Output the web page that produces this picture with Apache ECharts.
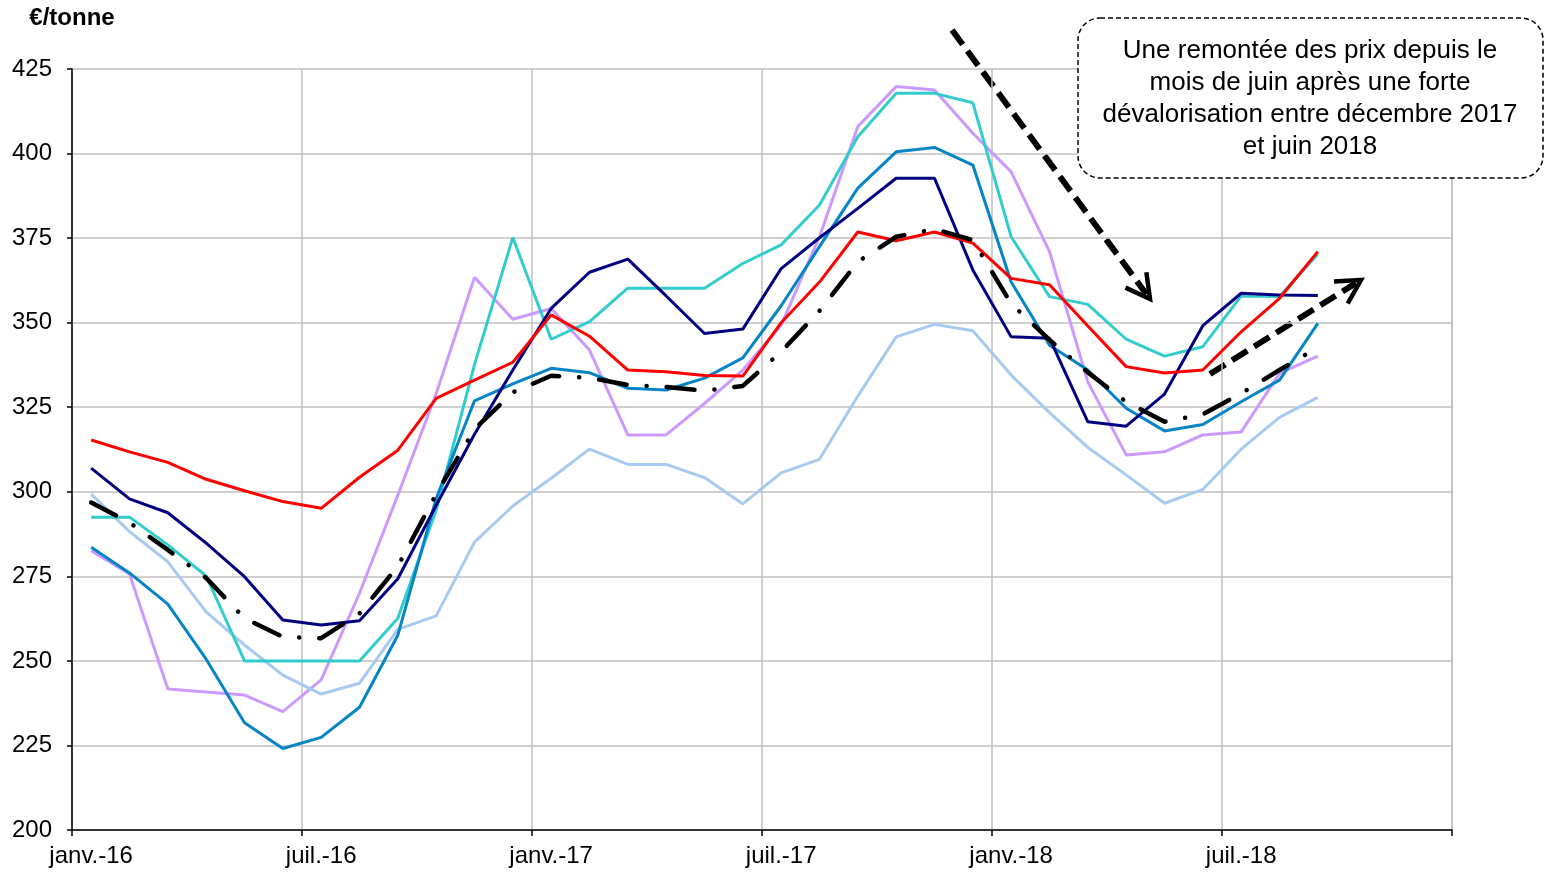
<!DOCTYPE html>
<html>
<head>
<meta charset="utf-8">
<title>Prix €/tonne</title>
<script src="https://cdn.jsdelivr.net/npm/echarts@6/dist/echarts.min.js"></script>
<style>
    html, body { margin: 0; padding: 0; background: #fff; }
    #chart { width: 1545px; height: 878px; }
</style>
</head>
<body>
<div id="chart"></div>
<script>
// Monthly prices, janv.-16 .. sept.-18 (axis runs to déc.-18)
const monthNames = ['janv.', 'févr.', 'mars', 'avr.', 'mai', 'juin', 'juil.', 'août', 'sept.', 'oct.', 'nov.', 'déc.'];
const years = ['16', '17', '18'];
const months = [];
years.forEach(y => monthNames.forEach(m => months.push(m + '-' + y)));

const yTicks = { min: 200, max: 425, step: 25 };

const redSeries = [315.3, 311.8, 308.7, 303.7, 300.3, 297.1, 295.1, 304.3, 312.3, 327.6, 333, 338.3,
    352.3, 346, 336, 335.5, 334.4, 334.2, 350, 362, 376.8, 374.2, 376.8, 373.5,
    363.1, 361.2, 349, 337, 335.1, 336, 347.3, 357.2, 371];
const navySeries = [307, 297.9, 293.8, 284.8, 274.9, 262.1, 260.6, 261.9, 274.3, 296, 317, 336,
    354.2, 364.9, 368.8, 357.9, 346.8, 348.1, 366, 375.1, 383.8, 392.7, 392.7, 365.6,
    345.8, 345.4, 320.7, 319.4, 328.9, 349.1, 358.7, 358.2, 358];
const tealSeries = [292.5, 292.5, 284.3, 275.1, 250, 250, 250, 250, 262.6, 294.6, 337.6, 375.2,
    345.1, 350.3, 360.2, 360.2, 360.2, 367.5, 373, 384.8, 405, 417.8, 417.8, 415,
    375.4, 357.7, 355.4, 345.1, 340.1, 342.9, 357.9, 357.7, 370.3];
const blueSeries = [283.6, 276, 266.8, 250.5, 231.7, 224.1, 227.4, 236.3, 257.6, 298, 326.9, 331.9,
    336.5, 335.2, 330.6, 330.1, 333.6, 339.6, 355, 372.5, 389.8, 400.5, 401.8, 396.6,
    362, 343.3, 336, 324.7, 318, 319.9, 326.6, 333, 349.8];
const lavenderSeries = [282.6, 275.7, 241.7, 240.8, 239.9, 235, 244.4, 270, 299, 329, 363.4, 351,
    354.2, 341.9, 316.8, 316.8, 326.1, 336, 349.3, 375.4, 408, 419.8, 418.8, 406,
    394.6, 371, 332.5, 310.9, 311.8, 316.8, 317.7, 335, 340.1];
const lightBlueSeries = [299.3, 288.2, 279.3, 264.5, 254.7, 245.8, 240.2, 243.4, 259.3, 263.3, 285.1, 295.8,
    304, 312.6, 308.1, 308.1, 304.2, 296.4, 305.6, 309.6, 328.3, 345.8, 349.5, 347.6,
    334.5, 323.4, 313.1, 305, 296.6, 300.7, 312.6, 322, 327.9];
const averageSeries = [296.8, 290.9, 282.8, 274.5, 262.6, 257.1, 256.7, 264, 278, 299.3, 318.5, 329.4,
    334.3, 333.7, 331.6, 331, 329.9, 331.3, 341.4, 353.5, 368, 375.4, 377.7, 374.4,
    355.6, 344.9, 335.3, 326.6, 320.7, 322.9, 329.1, 336, 342.7];

const noteLines = [
    'Une remontée des prix depuis le',
    'mois de juin après une forte',
    'dévalorisation entre décembre 2017',
    'et juin 2018'
];

const FONT = '"Liberation Sans", Arial, sans-serif';

function lineSeries(name, data, color, width) {
    return {
        name: name,
        type: 'line',
        data: data,
        symbol: 'none',
        smooth: false,
        lineStyle: { color: color, width: width },
        emphasis: { disabled: true }
    };
}

// dashed arrow annotation: shaft + open V head
function arrow(x1, y1, x2, y2) {
    const ang = Math.atan2(y2 - y1, x2 - x1);
    const len = 27, spread = 0.5;
    const bx = x2 - Math.cos(ang) * 6, by = y2 - Math.sin(ang) * 6;
    const p1 = [x2 - len * Math.cos(ang - spread), y2 - len * Math.sin(ang - spread)];
    const p2 = [x2 - len * Math.cos(ang + spread), y2 - len * Math.sin(ang + spread)];
    return [
        {
            type: 'line',
            shape: { x1: x1, y1: y1, x2: bx, y2: by },
            style: { stroke: '#000', lineWidth: 6, lineDash: [18, 8] }
        },
        {
            type: 'polyline',
            shape: { points: [p1, [x2, y2], p2] },
            style: { stroke: '#000', lineWidth: 4.5, fill: null, lineJoin: 'miter', miterLimit: 10 }
        }
    ];
}

const chart = echarts.init(document.getElementById('chart'));

const option = {
    backgroundColor: '#fff',
    animation: false,
    textStyle: { fontFamily: FONT },
    grid: { left: 72, right: 93, top: 69, bottom: 48, containLabel: false },
    xAxis: {
        type: 'category',
        data: months,
        boundaryGap: true,
        axisLine: { lineStyle: { color: '#000', width: 1.5 } },
        axisTick: { show: true, interval: 5, length: 6, lineStyle: { color: '#000', width: 1.5 } },
        axisLabel: { interval: 5, color: '#000', fontSize: 24, margin: 14, fontFamily: FONT },
        splitLine: { show: true, interval: 5, lineStyle: { color: '#c0c0c0', width: 1.5 } }
    },
    yAxis: [
        {
            type: 'value',
            min: yTicks.min,
            max: yTicks.max,
            interval: yTicks.step,
            name: '€/tonne',
            nameLocation: 'end',
            nameGap: 51,
            nameTextStyle: { color: '#000', fontSize: 24, fontWeight: 'bold', fontFamily: FONT, verticalAlign: 'middle', align: 'center' },
            axisLine: { show: true, lineStyle: { color: '#000', width: 1.5 } },
            axisTick: { show: true, length: 5, lineStyle: { color: '#000', width: 1.5 } },
            axisLabel: { color: '#000', fontSize: 24, margin: 20, fontFamily: FONT },
            splitLine: { show: true, lineStyle: { color: '#c0c0c0', width: 1.5 } }
        },
        {
            // right border of plot area drawn like a grid line
            type: 'value',
            position: 'right',
            min: yTicks.min,
            max: yTicks.max,
            interval: yTicks.step,
            axisLine: { show: true, lineStyle: { color: '#c0c0c0', width: 1.5 } },
            axisTick: { show: false },
            axisLabel: { show: false },
            splitLine: { show: false }
        }
    ],
    series: [
        lineSeries('lavande', lavenderSeries, '#cc99ff', 3),
        lineSeries('bleu clair', lightBlueSeries, '#a6caf0', 3),
        lineSeries('turquoise', tealSeries, '#33cccc', 3),
        lineSeries('bleu', blueSeries, '#0584c6', 3),
        lineSeries('bleu marine', navySeries, '#000080', 3),
        lineSeries('rouge', redSeries, '#ff0000', 3),
        {
            name: 'Moyenne',
            type: 'line',
            data: averageSeries,
            symbol: 'none',
            z: 5,
            lineStyle: { color: '#000', width: 4.5, type: [28, 20, 0.1, 20], cap: 'round' },
            emphasis: { disabled: true }
        }
    ],
    graphic: [
        ...arrow(952, 30, 1150, 299),
        ...arrow(1210, 374, 1361, 280),
        {
            type: 'rect',
            shape: { x: 1078, y: 18, width: 465, height: 160, r: 22 },
            style: { fill: '#fff', stroke: '#000', lineWidth: 1.5, lineDash: [5, 3] },
            z: 10
        },
        {
            type: 'text',
            x: 1310,
            y: 99,
            z: 11,
            style: {
                text: noteLines.join('\n'),
                font: '26px ' + FONT,
                fill: '#000',
                align: 'center',
                verticalAlign: 'middle',
                lineHeight: 32
            }
        }
    ]
};

chart.setOption(option);
</script>
</body>
</html>
